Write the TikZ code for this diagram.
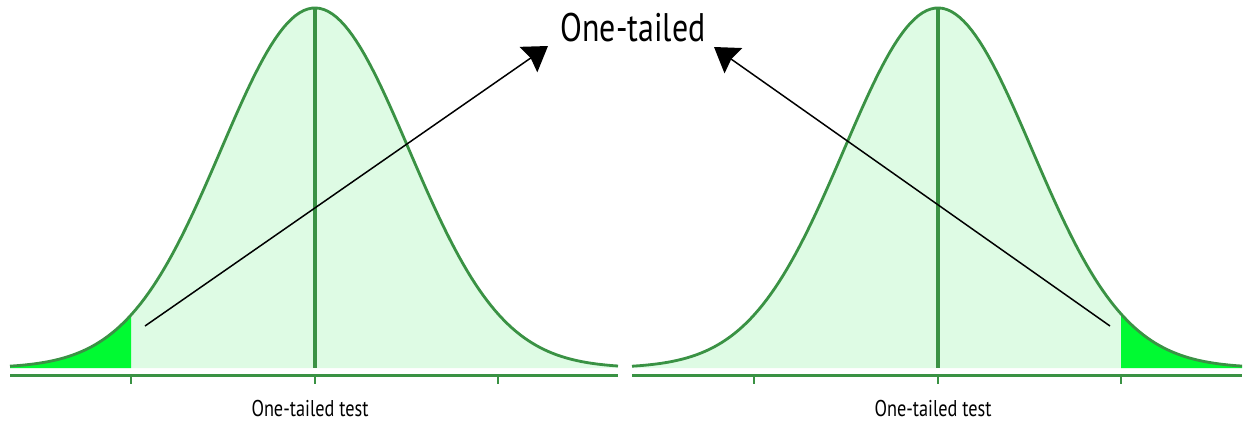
\documentclass[tikz,border=0pt]{standalone}
\usepackage{fontspec}
\usepackage{xcolor}
\usetikzlibrary{arrows.meta}
\newfontfamily\labelfont[FakeStretch=0.8]{PT Sans}
\definecolor{curvegreen}{RGB}{58,146,68}
\definecolor{bodyfill}{RGB}{222,251,228}
\definecolor{tailfill}{RGB}{0,250,50}

\begin{document}
\begin{tikzpicture}[x=0.02cm, y=-0.02cm,
    >={Stealth[length=13.5pt, width=17.5pt, inset=1.5pt]},
    declare function={bell(\t)=368-360*exp(-0.5*(\t/94)^2);},
    bellline/.style={curvegreen, line width=1.6pt},
    centreline/.style={curvegreen, line width=1.9pt},
    axisline/.style={curvegreen, line width=1.7pt},
    ticks/.style={curvegreen, line width=1.3pt},
    testlabel/.style={font=\labelfont\fontsize{13}{15}\selectfont, anchor=base, inner sep=0pt}]
\useasboundingbox (0,0) rectangle (1248,427);

% left distribution, tail on the left
\fill[bodyfill] plot[domain=10:618, samples=150] (\x,{bell(\x-315)}) -- (618,368) -- (10,368) -- cycle;
\fill[tailfill] plot[domain=10:131, samples=40] (\x,{bell(\x-315)}) -- (131,368) -- (10,368) -- cycle;
\draw[bellline] plot[domain=10:618, samples=150] (\x,{bell(\x-315)});
\draw[centreline] (315,8) -- (315,368);
\draw[axisline] (10,375) -- (618,375);
\foreach \p in {131,315,498}{
    \draw[ticks] (\p,375) -- (\p,384);
}

% right distribution, tail on the right
\fill[bodyfill] plot[domain=632:1242, samples=150] (\x,{bell(\x-938)}) -- (1242,368) -- (632,368) -- cycle;
\fill[tailfill] plot[domain=1121:1242, samples=40] (\x,{bell(\x-938)}) -- (1242,368) -- (1121,368) -- cycle;
\draw[bellline] plot[domain=632:1242, samples=150] (\x,{bell(\x-938)});
\draw[centreline] (938,8) -- (938,368);
\draw[axisline] (632,375) -- (1242,375);
\foreach \p in {754,938,1121}{
    \draw[ticks] (\p,375) -- (\p,384);
}

% labels
\node[testlabel] (labL) at (310,416) {One-tailed test};
\node[testlabel] (labR) at (933,416) {One-tailed test};
\node[font=\labelfont\fontsize{22.7}{26}\selectfont, anchor=base, inner sep=0pt] (title) at (633,41) {One-tailed};

% arrows to the title
\coordinate (tailL) at (145,326);
\coordinate (tipL)  at (548,46);
\coordinate (tailR) at (1110,326);
\coordinate (tipR)  at (714,47);
\draw[->, line width=0.85pt] (tailL) -- (tipL);
\draw[->, line width=0.85pt] (tailR) -- (tipR);
\end{tikzpicture}
\end{document}
